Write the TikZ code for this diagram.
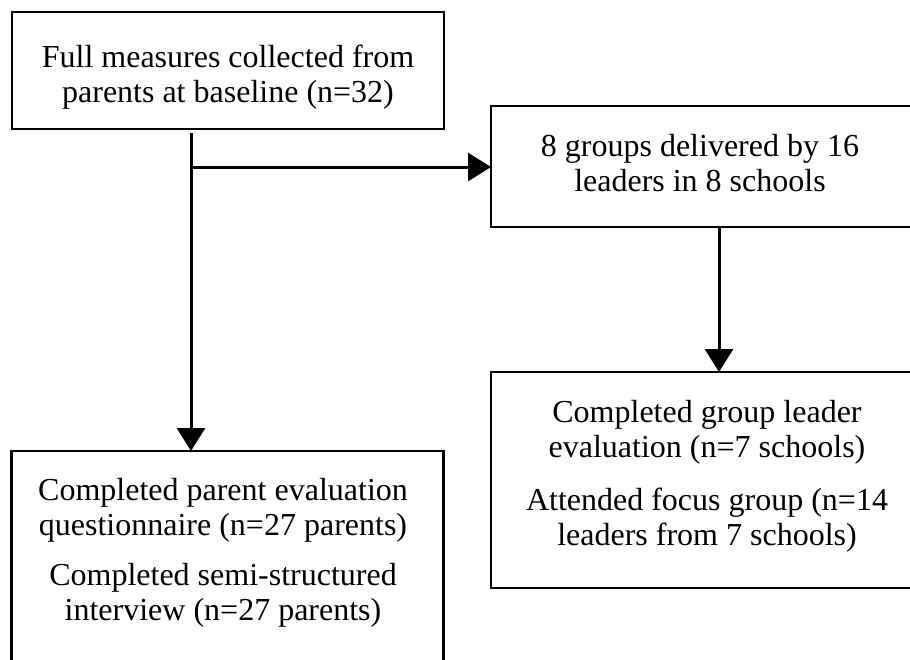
\documentclass[tikz,border=0pt]{standalone}
\usepackage{fontspec}
\setmainfont{Liberation Serif}
\usetikzlibrary{arrows.meta}
\begin{document}
\begin{tikzpicture}[x=1pt,y=-1pt,
  box/.style={draw=black,line width=2.6pt,minimum width=432pt,inner sep=0pt,outer sep=0pt},
  txt/.style={align=center,inner sep=0pt,font=\fontsize{32}{35}\selectfont},
  conn/.style={line width=3pt},
  arr/.style={conn,-{Triangle[length=23pt,width=28pt]}}]
\useasboundingbox (0,0) rectangle (910,659);
\begin{scope}
\clip (0,0) rectangle (910,659);
% boxes
\node[box,minimum height=117pt] (A) at (228,70.5) {};
\node[box,minimum height=121pt] (B) at (707,166.5) {};
\node[box,minimum height=216pt] (D) at (707,480) {};
\node[box,minimum height=215pt] (C) at (227.5,558.5) {};
% texts
\node[txt,anchor=base] (At) at (228,102) {Full measures collected from\\parents at baseline (n=32)};
\node[txt,anchor=base] (Bt) at (700,191) {8 groups delivered by 16\\leaders in 8 schools};
\node[txt,anchor=base] (Dt) at (707,545) {Completed group leader\\evaluation (n=7 schools)\\[18pt]Attended focus group (n=14\\leaders from 7 schools)};
\node[txt,anchor=base] (Ct) at (223,620) {Completed parent evaluation\\questionnaire (n=27 parents)\\[15pt]Completed semi-structured\\interview (n=27 parents)};
% connectors
\coordinate (s) at (191,133);
\coordinate (j) at (191,167);
\coordinate (bd) at (719,0);
\draw[conn] (s) -- (j);
\draw[arr] (j) -- (j -| B.west);
\draw[arr] (j) -- (j |- C.north);
\draw[arr] (B.south -| bd) -- (D.north -| bd);
\end{scope}
\end{tikzpicture}
\end{document}
